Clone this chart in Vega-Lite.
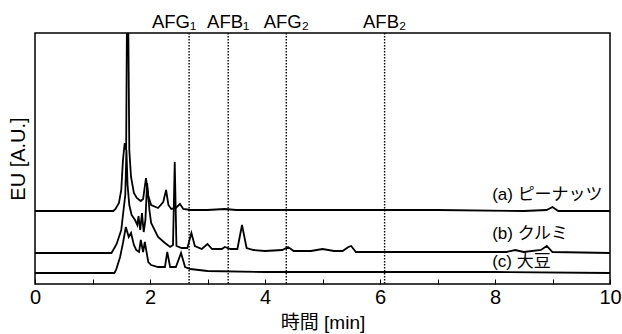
{
  "$schema": "https://vega.github.io/schema/vega-lite/v6.json",
  "width": 575,
  "height": 251,
  "autosize": {"type": "none"},
  "padding": {"left": 35, "top": 33, "right": 12, "bottom": 50},
  "config": {
    "view": {"stroke": "black", "strokeWidth": 1.5},
    "font": "Liberation Sans, Noto Sans CJK JP",
    "axis": {"domain": false, "grid": false, "labelColor": "black", "titleColor": "black", "labelFont": "Liberation Sans", "titleFont": "Liberation Sans, Noto Sans CJK JP", "titleFontWeight": "normal"}
  },
  "datasets": {
    "traces": [
      {"s": "a", "t": 0, "v": 73}, {"s": "a", "t": 1.0, "v": 73}, {"s": "a", "t": 1.36, "v": 73}, {"s": "a", "t": 1.40, "v": 75},
      {"s": "a", "t": 1.46, "v": 81}, {"s": "a", "t": 1.50, "v": 94}, {"s": "a", "t": 1.53, "v": 124}, {"s": "a", "t": 1.56, "v": 141},
      {"s": "a", "t": 1.585, "v": 134}, {"s": "a", "t": 1.60, "v": 275}, {"s": "a", "t": 1.62, "v": 275}, {"s": "a", "t": 1.64, "v": 134},
      {"s": "a", "t": 1.67, "v": 107}, {"s": "a", "t": 1.72, "v": 91}, {"s": "a", "t": 1.77, "v": 86}, {"s": "a", "t": 1.84, "v": 83},
      {"s": "a", "t": 1.88, "v": 85}, {"s": "a", "t": 1.93, "v": 106}, {"s": "a", "t": 1.97, "v": 88}, {"s": "a", "t": 2.02, "v": 79},
      {"s": "a", "t": 2.14, "v": 76}, {"s": "a", "t": 2.23, "v": 82}, {"s": "a", "t": 2.28, "v": 94}, {"s": "a", "t": 2.32, "v": 79},
      {"s": "a", "t": 2.37, "v": 75}, {"s": "a", "t": 2.45, "v": 76}, {"s": "a", "t": 2.52, "v": 80}, {"s": "a", "t": 2.58, "v": 75},
      {"s": "a", "t": 2.70, "v": 74}, {"s": "a", "t": 3.0, "v": 74}, {"s": "a", "t": 3.3, "v": 75}, {"s": "a", "t": 3.5, "v": 74},
      {"s": "a", "t": 4.0, "v": 74}, {"s": "a", "t": 5.0, "v": 74}, {"s": "a", "t": 6.0, "v": 74}, {"s": "a", "t": 7.0, "v": 74},
      {"s": "a", "t": 8.5, "v": 73}, {"s": "a", "t": 8.9, "v": 74}, {"s": "a", "t": 9.0, "v": 77}, {"s": "a", "t": 9.1, "v": 73},
      {"s": "a", "t": 10, "v": 73},
      {"s": "b", "t": 0, "v": 31}, {"s": "b", "t": 1.0, "v": 31}, {"s": "b", "t": 1.33, "v": 31}, {"s": "b", "t": 1.38, "v": 36},
      {"s": "b", "t": 1.42, "v": 40}, {"s": "b", "t": 1.50, "v": 54}, {"s": "b", "t": 1.54, "v": 74}, {"s": "b", "t": 1.57, "v": 89},
      {"s": "b", "t": 1.59, "v": 134}, {"s": "b", "t": 1.61, "v": 99}, {"s": "b", "t": 1.64, "v": 79}, {"s": "b", "t": 1.68, "v": 69},
      {"s": "b", "t": 1.74, "v": 64}, {"s": "b", "t": 1.78, "v": 59}, {"s": "b", "t": 1.80, "v": 68}, {"s": "b", "t": 1.83, "v": 54},
      {"s": "b", "t": 1.86, "v": 71}, {"s": "b", "t": 1.89, "v": 52}, {"s": "b", "t": 1.92, "v": 64}, {"s": "b", "t": 1.95, "v": 101},
      {"s": "b", "t": 1.99, "v": 74}, {"s": "b", "t": 2.02, "v": 61}, {"s": "b", "t": 2.14, "v": 47}, {"s": "b", "t": 2.26, "v": 41},
      {"s": "b", "t": 2.35, "v": 37}, {"s": "b", "t": 2.40, "v": 39}, {"s": "b", "t": 2.43, "v": 122}, {"s": "b", "t": 2.46, "v": 38},
      {"s": "b", "t": 2.55, "v": 36}, {"s": "b", "t": 2.65, "v": 36}, {"s": "b", "t": 2.72, "v": 51}, {"s": "b", "t": 2.78, "v": 38},
      {"s": "b", "t": 2.9, "v": 35}, {"s": "b", "t": 3.0, "v": 40}, {"s": "b", "t": 3.08, "v": 35}, {"s": "b", "t": 3.25, "v": 35},
      {"s": "b", "t": 3.3, "v": 37}, {"s": "b", "t": 3.4, "v": 35}, {"s": "b", "t": 3.52, "v": 35}, {"s": "b", "t": 3.6, "v": 59},
      {"s": "b", "t": 3.68, "v": 36}, {"s": "b", "t": 3.8, "v": 34}, {"s": "b", "t": 4.0, "v": 33}, {"s": "b", "t": 4.3, "v": 34},
      {"s": "b", "t": 4.4, "v": 37}, {"s": "b", "t": 4.5, "v": 33}, {"s": "b", "t": 4.8, "v": 33}, {"s": "b", "t": 5.0, "v": 35},
      {"s": "b", "t": 5.2, "v": 33}, {"s": "b", "t": 5.35, "v": 33}, {"s": "b", "t": 5.45, "v": 37}, {"s": "b", "t": 5.5, "v": 38},
      {"s": "b", "t": 5.58, "v": 32}, {"s": "b", "t": 6, "v": 32}, {"s": "b", "t": 7, "v": 32}, {"s": "b", "t": 8.2, "v": 32},
      {"s": "b", "t": 8.35, "v": 34}, {"s": "b", "t": 8.5, "v": 32}, {"s": "b", "t": 8.8, "v": 34}, {"s": "b", "t": 8.9, "v": 38},
      {"s": "b", "t": 9.0, "v": 32}, {"s": "b", "t": 10, "v": 31},
      {"s": "c", "t": 0, "v": 11}, {"s": "c", "t": 1.0, "v": 11}, {"s": "c", "t": 1.38, "v": 11}, {"s": "c", "t": 1.41, "v": 14},
      {"s": "c", "t": 1.48, "v": 27}, {"s": "c", "t": 1.53, "v": 41}, {"s": "c", "t": 1.58, "v": 57}, {"s": "c", "t": 1.63, "v": 47},
      {"s": "c", "t": 1.67, "v": 51}, {"s": "c", "t": 1.72, "v": 39}, {"s": "c", "t": 1.76, "v": 34}, {"s": "c", "t": 1.81, "v": 32},
      {"s": "c", "t": 1.84, "v": 44}, {"s": "c", "t": 1.88, "v": 32}, {"s": "c", "t": 1.91, "v": 42}, {"s": "c", "t": 1.97, "v": 22},
      {"s": "c", "t": 2.02, "v": 19}, {"s": "c", "t": 2.14, "v": 17}, {"s": "c", "t": 2.26, "v": 17}, {"s": "c", "t": 2.30, "v": 32},
      {"s": "c", "t": 2.35, "v": 17}, {"s": "c", "t": 2.45, "v": 17}, {"s": "c", "t": 2.54, "v": 31}, {"s": "c", "t": 2.61, "v": 17},
      {"s": "c", "t": 2.70, "v": 15}, {"s": "c", "t": 3.0, "v": 13}, {"s": "c", "t": 4.0, "v": 12}, {"s": "c", "t": 6, "v": 12},
      {"s": "c", "t": 8, "v": 12}, {"s": "c", "t": 10, "v": 11}
    ],
    "markers": [
      {"t": 2.68, "name": "AFG₁"},
      {"t": 3.36, "name": "AFB₁"},
      {"t": 4.37, "name": "AFG₂"},
      {"t": 6.08, "name": "AFB₂"}
    ],
    "series": [
      {"t": 7.95, "v": 84, "label": "(a) ピーナッツ"},
      {"t": 7.95, "v": 45, "label": "(b) クルミ"},
      {"t": 7.95, "v": 17, "label": "(c) 大豆"}
    ]
  },
  "layer": [
    {
      "data": {"name": "traces"},
      "mark": {"type": "line", "color": "black", "strokeWidth": 1.8, "clip": true, "interpolate": "linear"},
      "encoding": {
        "x": {"field": "t", "type": "quantitative", "scale": {"domain": [0, 10], "nice": false},
          "axis": {"title": "時間 [min]", "values": [0,1,2,3,4,5,6,7,8,9,10], "format": "d", "labelExpr": "datum.value % 2 == 0 ? datum.label : ''",
            "tickSize": -5, "tickColor": "black", "tickWidth": 1, "labelFontSize": 20, "labelPadding": 8, "titleFontSize": 19, "titlePadding": 6, "labelFlush": false}},
        "y": {"field": "v", "type": "quantitative", "scale": {"domain": [0, 251], "nice": false, "zero": false},
          "axis": {"title": "EU [A.U.]", "labels": false, "ticks": false, "titleFontSize": 20, "titlePadding": 7}},
        "detail": {"field": "s"}
      }
    },
    {
      "data": {"name": "markers"},
      "mark": {"type": "rule", "color": "black", "strokeWidth": 1.4, "strokeDash": [1.5, 1.5]},
      "encoding": {"x": {"field": "t", "type": "quantitative"}}
    },
    {
      "data": {"name": "markers"},
      "transform": [{"filter": "datum.name != 'AFG₁'"}],
      "mark": {"type": "text", "align": "center", "baseline": "alphabetic", "fontSize": 18.5, "font": "Liberation Sans", "clip": false, "color": "black"},
      "encoding": {"x": {"field": "t", "type": "quantitative"}, "y": {"datum": 256}, "text": {"field": "name"}}
    },
    {
      "data": {"name": "markers"},
      "transform": [{"filter": "datum.name == 'AFG₁'"}],
      "mark": {"type": "text", "align": "center", "baseline": "alphabetic", "fontSize": 18.5, "font": "Liberation Sans", "clip": false, "dx": -15, "color": "black"},
      "encoding": {"x": {"field": "t", "type": "quantitative"}, "y": {"datum": 256}, "text": {"field": "name"}}
    },
    {
      "data": {"name": "series"},
      "mark": {"type": "text", "align": "left", "baseline": "alphabetic", "fontSize": 17, "font": "Liberation Sans, Noto Sans CJK JP", "color": "black"},
      "encoding": {"x": {"field": "t", "type": "quantitative"}, "y": {"field": "v", "type": "quantitative"}, "text": {"field": "label"}}
    }
  ]
}
